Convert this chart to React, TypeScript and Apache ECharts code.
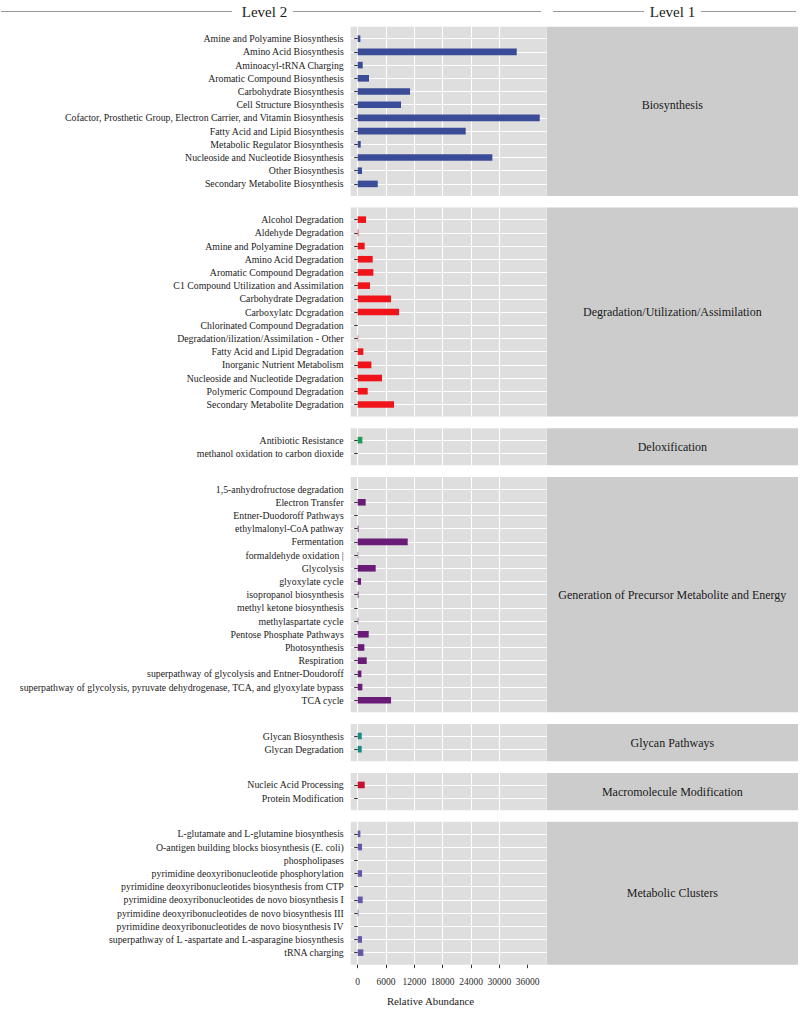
import React, { useEffect, useRef } from "react";
import * as echarts from "echarts";

// ---------- data ----------
const level1Names = [
  "Biosynthesis",
  "Degradation/Utilization/Assimilation",
  "Deloxification",
  "Generation of Precursor Metabolite and Energy",
  "Glycan Pathways",
  "Macromolecule Modification",
  "Metabolic Clusters",
];

const bioCats = [
  "Amine and Polyamine Biosynthesis",
  "Amino Acid Biosynthesis",
  "Aminoacyl-tRNA Charging",
  "Aromatic Compound Biosynthesis",
  "Carbohydrate Biosynthesis",
  "Cell Structure Biosynthesis",
  "Cofactor, Prosthetic Group, Electron Carrier, and Vitamin Biosynthesis",
  "Fatty Acid and Lipid Biosynthesis",
  "Metabolic Regulator Biosynthesis",
  "Nucleoside and Nucleotide Biosynthesis",
  "Other Biosynthesis",
  "Secondary Metabolite Biosynthesis",
];
const bioVals = [565, 33680, 1060, 2400, 11090, 9180, 38550, 22870, 640, 28520, 920, 4240];

const degCats = [
  "Alcohol Degradation",
  "Aldehyde Degradation",
  "Amine and Polyamine Degradation",
  "Amino Acid Degradation",
  "Aromatic Compound Degradation",
  "C1 Compound Utilization and Assimilation",
  "Carbohydrate Degradation",
  "Carboxylatc Dcgradation",
  "Chlorinated Compound Degradation",
  "Degradation/ilization/Assimilation - Other",
  "Fatty Acid and Lipid Degradation",
  "Inorganic Nutrient Metabolism",
  "Nucleoside and Nucleotide Degradation",
  "Polymeric Compound Degradation",
  "Secondary Metabolite Degradation",
];
const degVals = [1770, 150, 1480, 3180, 3320, 2610, 7060, 8760, 0, 100, 1200, 2900, 5150, 2120, 7690];

const detoxCats = ["Antibiotic Resistance", "methanol oxidation to carbon dioxide"];
const detoxVals = [990, 0];

const genCats = [
  "1,5-anhydrofructose degradation",
  "Electron Transfer",
  "Entner-Duodoroff Pathways",
  "ethylmalonyl-CoA pathway",
  "Fermentation",
  "formaldehyde oxidation |",
  "Glycolysis",
  "glyoxylate cycle",
  "isopropanol biosynthesis",
  "methyl ketone biosynthesis",
  "methylaspartate cycle",
  "Pentose Phosphate Pathways",
  "Photosynthesis",
  "Respiration",
  "superpathway of glycolysis and Entner-Doudoroff",
  "superpathway of glycolysis, pyruvate dehydrogenase, TCA, and glyoxylate bypass",
  "TCA cycle",
];
const genVals = [0, 1690, 0, 180, 10590, 100, 3810, 710, 180, 0, 120, 2330, 1410, 1910, 780, 990, 7060];

const glycanCats = ["Glycan Biosynthesis", "Glycan Degradation"];
const glycanVals = [850, 850];

const macroCats = ["Nucleic Acid Processing", "Protein Modification"];
const macroVals = [1480, 0];

const clusterCats = [
  "L-glutamate and L-glutamine biosynthesis",
  "O-antigen building blocks biosynthesis (E. coli)",
  "phospholipases",
  "pyrimidine deoxyribonucleotide phosphorylation",
  "pyrimidine deoxyribonucleotides biosynthesis from CTP",
  "pyrimidine deoxyribonucleotides de novo biosynthesis I",
  "pyrimidine deoxyribonucleotides de novo biosynthesis III",
  "pyrimidine deoxyribonucleotides de novo biosynthesis IV",
  "superpathway of L -aspartate and L-asparagine biosynthesis",
  "tRNA charging",
];
const clusterVals = [565, 920, 0, 920, 0, 1060, 150, 0, 920, 1200];

const xTickValues = [0, 6000, 12000, 18000, 24000, 30000, 36000];
const panelColors = ["#3A4B97", "#F0141A", "#1F9B55", "#6A1B78", "#1B8A86", "#C8102E", "#6657A8"];

// ---------- layout ----------
const FONT = "Liberation Serif, Times New Roman, serif";
const STEP = 13.2;
const PAD = 0.91 * STEP;
const GAP = 11.7;
const FIRST_TOP = 26.7;
const PL = 350.7;
const PR = 546.7;
const SR = 798;
const XMIN = -1482;
const XMAX = 40028;
const STRIP_LABEL_SHIFT = [-6.5, 0, 0, 0, 0, 0, 0];

export default function App() {
  const ref = useRef<HTMLDivElement>(null);

  useEffect(() => {
    if (!ref.current) return;
    const chart = echarts.init(ref.current, null, { renderer: "svg" });

    const panels = [
      { cats: bioCats, vals: bioVals },
      { cats: degCats, vals: degVals },
      { cats: detoxCats, vals: detoxVals },
      { cats: genCats, vals: genVals },
      { cats: glycanCats, vals: glycanVals },
      { cats: macroCats, vals: macroVals },
      { cats: clusterCats, vals: clusterVals },
    ];

    const grids: any[] = [];
    const xAxes: any[] = [];
    const yAxes: any[] = [];
    const series: any[] = [];
    const graphics: any[] = [];

    let top = FIRST_TOP;
    panels.forEach((p, i) => {
      const n = p.cats.length;
      const h = (n + 0.82) * STEP;
      const isLast = i === panels.length - 1;

      // background grid (panel)
      grids.push({
        left: PL, top, width: PR - PL, height: h,
        show: true, backgroundColor: "#DEDEDE", borderWidth: 0,
      });
      const bg = grids.length - 1;
      xAxes.push({
        type: "value", gridIndex: bg, min: XMIN, max: XMAX,
        axisLine: { show: false },
        axisTick: { show: isLast, customValues: xTickValues, length: 3.5, lineStyle: { color: "#333333" } },
        axisLabel: {
          show: isLast, customValues: xTickValues, margin: 12,
          fontFamily: FONT, fontSize: 9.5, color: "#2A2A2A",
          formatter: (v: number) => String(v),
        },
        splitLine: { show: true, showMinLine: true, showMaxLine: false, lineStyle: { color: "#FFFFFF", width: 1.1 } },
      });
      yAxes.push({ type: "value", gridIndex: bg, show: false, splitLine: { show: false } });

      // data grid
      grids.push({ left: PL, top: top + PAD, width: PR - PL, height: (n - 1) * STEP, show: false });
      const d = grids.length - 1;
      xAxes.push({ type: "value", gridIndex: d, min: XMIN, max: XMAX, show: false, splitLine: { show: false } });
      yAxes.push({
        type: "category", gridIndex: d, data: p.cats, inverse: true, boundaryGap: false,
        axisLine: { show: false },
        axisTick: { show: true, interval: 0, length: 3.5, lineStyle: { color: "#333333" } },
        axisLabel: { interval: 0, margin: 7, fontFamily: FONT, fontSize: 9.8, color: "#222222" },
        splitLine: { show: true, interval: 0, lineStyle: { color: "#FFFFFF", width: 1.1 } },
      });
      series.push({
        type: "bar", name: level1Names[i], xAxisIndex: d, yAxisIndex: d,
        data: p.vals, barWidth: 6.6, clip: false,
        itemStyle: { color: panelColors[i] },
      });

      // strip
      graphics.push({
        type: "rect", z: -10, silent: true,
        shape: { x: PR, y: top, width: SR - PR, height: h },
        style: { fill: "#CCCCCC" },
      });
      graphics.push({
        type: "text", x: (PR + SR) / 2, y: top + h / 2 + STRIP_LABEL_SHIFT[i], silent: true,
        style: {
          text: level1Names[i], fontFamily: FONT, fontSize: 12, fill: "#1A1A1A",
          align: "center", verticalAlign: "middle", textAlign: "center", textVerticalAlign: "middle",
        },
      });
      top += h + GAP;
    });

    // header
    const HY = 11.5;
    const lineStyle = { stroke: "#9A9A9A", lineWidth: 1 };
    graphics.push({ type: "line", shape: { x1: 1, y1: HY, x2: 232, y2: HY }, style: lineStyle });
    graphics.push({ type: "line", shape: { x1: 293, y1: HY, x2: 541, y2: HY }, style: lineStyle });
    graphics.push({ type: "line", shape: { x1: 553, y1: HY, x2: 644, y2: HY }, style: lineStyle });
    graphics.push({ type: "line", shape: { x1: 701, y1: HY, x2: 796, y2: HY }, style: lineStyle });
    const headerText = (text: string, x: number) => ({
      type: "text", x, y: HY,
      style: {
        text, fontFamily: FONT, fontSize: 15, fill: "#1A1A1A",
        align: "center", verticalAlign: "middle", textAlign: "center", textVerticalAlign: "middle",
      },
    });
    graphics.push(headerText("Level 2", 264.5));
    graphics.push(headerText("Level 1", 672.5));

    // x-axis title
    graphics.push({
      type: "text", x: 430.5, y: 1001,
      style: {
        text: "Relative Abundance", fontFamily: FONT, fontSize: 10.8, fill: "#1A1A1A",
        align: "center", verticalAlign: "middle", textAlign: "center", textVerticalAlign: "middle",
      },
    });

    chart.setOption({
      animation: false,
      backgroundColor: "#FFFFFF",
      grid: grids,
      xAxis: xAxes,
      yAxis: yAxes,
      series,
      graphic: graphics,
    });

    return () => chart.dispose();
  }, []);

  return (
    <div
      ref={ref}
      style={{ position: "fixed", left: 0, top: 0, width: 800, height: 1009 }}
    />
  );
}
